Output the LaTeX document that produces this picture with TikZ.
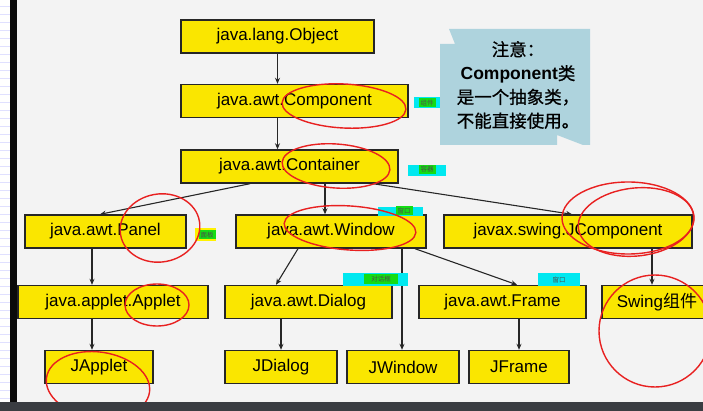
\documentclass[tikz,border=0pt]{standalone}
\usepackage{fontspec}
\setmainfont{Liberation Sans}
\newfontfamily\latin{Liberation Sans}
\newfontfamily\cjk{Noto Sans CJK SC}
\newfontfamily\cjknote[FakeBold=0.8]{Noto Sans CJK SC}
\usetikzlibrary{arrows.meta,calc}

\definecolor{clsyellow}{RGB}{250,230,0}
\definecolor{noteblue}{RGB}{174,211,221}
\definecolor{hlcyan}{RGB}{0,232,240}
\definecolor{hlgreen}{RGB}{20,220,20}
\definecolor{pagegray}{RGB}{243,243,243}
\definecolor{barblack}{RGB}{10,10,10}
\definecolor{taskgray}{RGB}{58,61,66}
\definecolor{penred}{RGB}{232,32,32}

\begin{document}
\begin{tikzpicture}[
    x=1pt, y=-1pt,
    cls/.style={rectangle, draw=black!85, line width=1.4pt, fill=clsyellow,
                minimum height=33pt, inner sep=0pt, font=\fontsize{17}{20}\selectfont},
    arr/.style={-{Stealth[length=6pt,width=5pt]}, line width=1.1pt, draw=black!85},
    hlbox/.style={rectangle, fill=hlcyan, inner sep=0pt},
    hltext/.style={rectangle, fill=hlgreen, inner xsep=2pt, inner ysep=1pt,
                   minimum height=9pt, text=black!70,
                   font=\cjk\fontsize{6.5}{6.5}\selectfont},
    pen/.style={draw=penred, line width=1.4pt},
]
\useasboundingbox (0,0) rectangle (703,411);
\clip (0,0) rectangle (703,411);

% Page
\fill[pagegray] (0,0) rectangle (703,411);
\fill[white] (0,0) rectangle (10,411);
\foreach \y in {6,14,...,400}
  \draw[blue!12, line width=0.4pt] (0,\y) -- (10,\y);
\fill[barblack] (10,0) rectangle (17,402);

% Note
\fill[noteblue] (449,29) -- (590,29) -- (590,145) -- (583,145) -- (557,135)
  -- (557,145) -- (440,145) -- (440,44) -- (455,44) -- cycle;
\node[align=center, font=\cjknote\fontsize{17.5}{23.8}\selectfont] (note) at (518,85)
  {注意：\\{\latin\bfseries Component}类\\是一个抽象类，\\不能直接使用。};

% Nodes
\node[cls, minimum width=193pt] (obj)    at (277.5,36.5) {java.lang.Object};
\node[cls, minimum width=227pt] (comp)   at (294.5,101)  {java.awt.Component};
\node[cls, minimum width=217pt] (cont)   at (289.5,166.5) {java.awt.Container};
\node[cls, minimum width=161pt] (pan)    at (105.5,231.5) {java.awt.Panel};
\node[cls, minimum width=190pt] (win)    at (331,231.5)  {java.awt.Window};
\node[cls, minimum width=248pt] (jcomp)  at (568,231.5)  {javax.swing.JComponent};
\node[cls, minimum width=190pt] (applet) at (113,302)    {java.applet.Applet};
\node[cls, minimum width=167pt] (dialog) at (308.5,302)  {java.awt.Dialog};
\node[cls, minimum width=167pt] (frame)  at (502.5,302)  {java.awt.Frame};
\node[cls, minimum width=110pt] (swing)  at (657,302)    {Swing{\cjk 组件}};
\node[cls, minimum width=108pt] (japplet) at (99,367)    {JApplet};
\node[cls, minimum width=112pt] (jdialog) at (281,367)   {JDialog};
\node[cls, minimum width=112pt] (jwindow) at (403,367)   {JWindow};
\node[cls, minimum width=100pt] (jframe)  at (519,367)   {JFrame};

% Arrows
\draw[arr] (obj.south) -- (obj.south |- comp.north);
\draw[arr] (obj.south |- comp.south) -- (obj.south |- cont.north);
\draw[arr] ([xshift=-39.5pt]cont.south) -- ([xshift=-5.5pt]pan.north);
\draw[arr] ([xshift=35.5pt]cont.south) -- ([xshift=-6pt]win.north);
\draw[arr] ([xshift=83.5pt]cont.south) -- ([xshift=4pt]jcomp.north);
\draw[arr] ([xshift=-13.5pt]pan.south) -- ([xshift=-21pt]applet.north);
\draw[arr] ([xshift=-21pt]applet.south) -- ([xshift=-7pt]japplet.north);
\draw[arr] ([xshift=-33pt]win.south) -- ([xshift=-32.5pt]dialog.north);
\draw[arr] ([xshift=71pt]win.south) -- ([xshift=-1pt]jwindow.north);
\draw[arr] ([xshift=84pt]win.south) -- ([xshift=14.5pt]frame.north);
\draw[arr] ([xshift=-27.5pt]dialog.south) -- (jdialog.north);
\draw[arr] ([xshift=16.5pt]frame.south) -- (jframe.north);
\draw[arr] ([xshift=84pt]jcomp.south) -- ([xshift=-5pt]swing.north);

% Highlights
\node[hlbox, minimum width=26pt, minimum height=11pt] (hlA) at (427,102.5) {};
\node[hltext] (hlAtxt) at (427,103) {组件};
\node[hlbox, minimum width=38pt, minimum height=11pt] (hlB) at (427,170.5) {};
\node[hltext] (hlBtxt) at (427,169.5) {容器};
\node[hlbox, fill=yellow, minimum width=21pt, minimum height=13pt] (hlC) at (205.5,235) {};
\node[hltext] (hlCtxt) at (207,235) {面板};
\node[hlbox, minimum width=45pt, minimum height=9pt] (hlD) at (400.5,211.5) {};
\node[hltext] (hlDtxt) at (404,211) {窗口};
\node[hlbox, minimum width=65pt, minimum height=13pt] (hlE) at (375.5,279.5) {};
\node[hltext, minimum width=34pt] (hlEtxt) at (381,279) {对话框};
\node[hlbox, minimum width=42pt, minimum height=13pt] (hlF) at (559,279.5) {};
\node[hlbox, text=black!70, font=\cjk\fontsize{6.5}{6.5}\selectfont] (hlFtxt) at (559,280) {窗口};

% Pen marks
\draw[pen, rotate around={-3:(344,106)}] (344,106) ellipse [x radius=62pt, y radius=22pt];
\draw[pen, rotate around={-4:(336,166)}] (336,166) ellipse [x radius=54pt, y radius=22pt];
\draw[pen, rotate around={10:(160,228)}] (160,228) ellipse [x radius=40pt, y radius=34pt];
\draw[pen] (157,305) ellipse [x radius=32pt, y radius=21pt];
\draw[pen, rotate around={-8:(98,385)}] (98,385) ellipse [x radius=52pt, y radius=33pt];
\draw[pen, rotate around={-4:(350,228)}] (350,228) ellipse [x radius=66pt, y radius=22pt];
\draw[pen] (628,218) ellipse [x radius=66pt, y radius=36pt];
\draw[pen, rotate around={6:(636,222)}] (636,222) ellipse [x radius=58pt, y radius=34pt];
\draw[pen] (655,331) ellipse [x radius=56pt, y radius=56pt];

% Taskbar
\fill[taskgray] (0,402) rectangle (703,411);
\end{tikzpicture}
\end{document}
